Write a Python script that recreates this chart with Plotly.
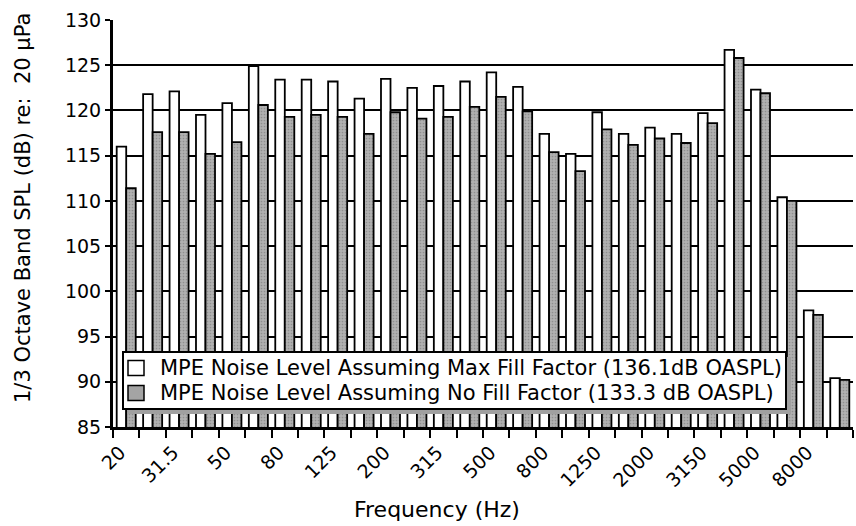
import plotly.graph_objects as go

# 1/3 octave band centre frequencies (Hz)
bands = ["20", "25", "31.5", "40", "50", "63", "80", "100", "125", "160",
         "200", "250", "315", "400", "500", "630", "800", "1000", "1250", "1600",
         "2000", "2500", "3150", "4000", "5000", "6300", "8000", "10000"]

# labelled ticks on the frequency axis
tick_labels = ["20", "31.5", "50", "80", "125", "200", "315", "500", "800",
               "1250", "2000", "3150", "5000", "8000"]

# SPL (dB re 20 µPa)
max_fill = [116.0, 121.8, 122.1, 119.5, 120.8, 124.9, 123.4, 123.4, 123.2, 121.3,
            123.5, 122.5, 122.7, 123.2, 124.2, 122.6, 117.4, 115.2, 119.8, 117.4,
            118.1, 117.4, 119.7, 126.7, 122.3, 110.4, 97.9, 90.4]
no_fill = [111.4, 117.6, 117.6, 115.2, 116.5, 120.6, 119.3, 119.5, 119.3, 117.4,
           119.8, 119.1, 119.3, 120.4, 121.5, 119.9, 115.4, 113.3, 117.9, 116.2,
           116.9, 116.4, 118.6, 125.8, 121.9, 110.0, 97.4, 90.2]

series_names = ["MPE Noise Level Assuming Max Fill Factor (136.1dB OASPL)",
                "MPE Noise Level Assuming No Fill Factor (133.3 dB OASPL)"]

FONT = "DejaVu Sans"
WHITE_FILL = "white"
GRAY_FILL = "#a4a4a4"

fig = go.Figure()
fig.add_trace(go.Bar(
    x=bands, y=max_fill, name=series_names[0], showlegend=False,
    marker=dict(color=WHITE_FILL, line=dict(color="black", width=1.8)),
))
fig.add_trace(go.Bar(
    x=bands, y=no_fill, name=series_names[1], showlegend=False,
    marker=dict(color=GRAY_FILL, line=dict(color="black", width=1.8),
                pattern=dict(shape=".", fgcolor="#6e6e6e", bgcolor="#b0b0b0",
                             size=3, solidity=0.25)),
))

ticktext = [b if b in tick_labels else "" for b in bands]

W, H = 856, 526
L, R, T, B = 113, 3, 20, 99
pw, ph = W - L - R, H - T - B


def px_x(x):
    return (x - L) / pw


def px_y(y):
    return (H - B - y) / ph


def prect(x0, y0, x1, y1, fill, lw=0, lc="black"):
    return dict(type="rect", xref="paper", yref="paper",
                x0=px_x(x0), x1=px_x(x1), y0=px_y(y1), y1=px_y(y0),
                fillcolor=fill, line=dict(width=lw, color=lc), layer="above")


# legend box geometry (pixels)
LEG_L, LEG_T, LEG_R, LEG_B = 123, 352, 786, 409
SH = 5
ROW_Y = [368, 393]
SYM_X0, SYM_X1, SYM_H = 128, 144, 15
TEXT_X = 158

shapes = [
    prect(LEG_L + SH, LEG_T + SH, LEG_R + SH, LEG_B + SH, "#a0a0a0"),
    prect(LEG_L, LEG_T, LEG_R, LEG_B, "white", 2),
]
annotations = []
for i, (nm, fill) in enumerate(zip(series_names, [WHITE_FILL, GRAY_FILL])):
    yc = ROW_Y[i]
    shapes.append(prect(SYM_X0, yc - SYM_H / 2, SYM_X1, yc + SYM_H / 2, fill, 1.5))
    annotations.append(dict(text=nm, xref="paper", yref="paper",
                            x=px_x(TEXT_X), y=px_y(yc), xanchor="left", yanchor="middle",
                            showarrow=False, font=dict(family=FONT, size=21)))

annotations += [
    dict(text="Frequency (Hz)", xref="paper", yref="paper",
         x=px_x(437), y=px_y(509), xanchor="center", yanchor="middle",
         showarrow=False, font=dict(family=FONT, size=22)),
    dict(text="1/3 Octave Band SPL (dB) re:  20 µPa", xref="paper", yref="paper",
         x=px_x(23), y=px_y(208), xanchor="center", yanchor="middle",
         textangle=-90, showarrow=False, font=dict(family=FONT, size=21)),
]

fig.update_layout(
    width=W, height=H,
    margin=dict(l=L, r=R, t=T, b=B),
    paper_bgcolor="white", plot_bgcolor="white",
    font=dict(family=FONT, color="black", size=19),
    barmode="group", bargap=0.28, bargroupgap=0,
    xaxis=dict(
        type="category", range=[-0.5, 27.5],
        tickmode="array", tickvals=bands, ticktext=ticktext,
        tickson="boundaries", tickangle=-45,
        ticklabelshift=-6, ticklabelstandoff=4,
        ticks="outside", ticklen=8, tickwidth=2, tickcolor="black",
        showline=True, linecolor="black", linewidth=3,
        showgrid=False, zeroline=False,
        tickfont=dict(family=FONT, size=19),
    ),
    yaxis=dict(
        range=[85, 130], tickmode="linear", tick0=85, dtick=5,
        ticks="outside", ticklen=5, tickwidth=1.5, tickcolor="black",
        showline=True, linecolor="black", linewidth=3,
        showgrid=True, gridcolor="black", gridwidth=1.5,
        zeroline=False,
        tickfont=dict(family=FONT, size=19),
    ),
    shapes=shapes,
    annotations=annotations,
)

fig.write_html("out.html")
